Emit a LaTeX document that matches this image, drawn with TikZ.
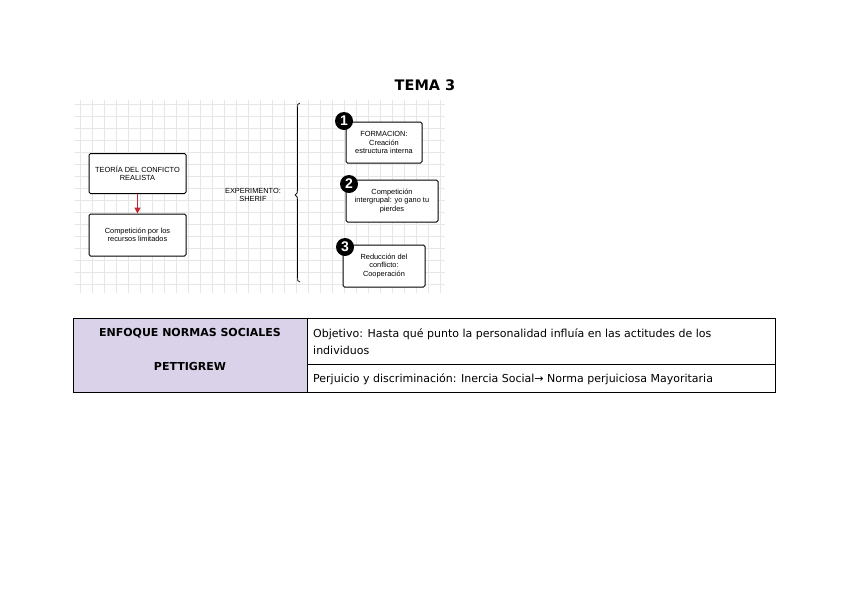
\documentclass[tikz,border=0pt]{standalone}
\usepackage{fontspec}
\setmainfont{DejaVu Sans}
\newfontfamily\diagf{Liberation Sans}
\newfontfamily\tabf{DejaVu Sans}
\usetikzlibrary{arrows.meta}
\definecolor{gridc}{RGB}{230,230,230}
\definecolor{lav}{RGB}{217,210,233}
\definecolor{arrred}{RGB}{190,40,50}
\tikzset{
  dbox/.style={draw=black, line width=1pt, rounded corners=1.5pt, fill=white, align=center,
    font=\diagf\fontsize{7.4}{8.6}\selectfont, inner sep=1pt},
  numc/.style={circle, fill=black, text=white, inner sep=0pt, minimum size=18pt,
    font=\diagf\bfseries\fontsize{14}{14}\selectfont},
  cell/.style={draw=black, line width=0.6pt},
  celltxt/.style={font=\tabf\fontsize{11}{12}\selectfont, anchor=west, inner sep=0pt},
  headtxt/.style={font=\tabf\bfseries\fontsize{11}{12}\selectfont, inner sep=0pt}
}
\begin{document}
\begin{tikzpicture}[x=1pt,y=-1pt]
\useasboundingbox[fill=white] (0,0) rectangle (848,600);
% title
\node[font=\bfseries\fontsize{14.5}{14.5}\selectfont] (title) at (425,85) {TEMA 3};
% grid background
\begin{scope}
\clip (75,100) rectangle (445,293);
\foreach \x in {80,92,...,444} \draw[gridc, line width=0.5pt] (\x,100) -- (\x,293);
\foreach \y in {104,116,...,292} \draw[gridc, line width=0.5pt] (75,\y) -- (445,\y);
\end{scope}
% left boxes
\node[dbox, minimum width=97pt, minimum height=40pt] (teoria) at (137.5,173.5) {TEORÍA DEL CONFICTO\\REALISTA};
\node[dbox, minimum width=97pt, minimum height=42pt] (comp) at (137.5,235) {Competición por los\\recursos limitados};
\draw[arrred, line width=1.4pt, -{Triangle[length=6pt,width=6pt]}] (teoria) -- (comp);
% experiment label
\node[font=\diagf\fontsize{7.4}{7.6}\selectfont, align=center] (exp) at (253,195) {EXPERIMENTO:\\SHERIF};
% brace
\coordinate (btop) at (300,103);
\coordinate (bbot) at (300,282);
\draw[line width=0.7pt] (btop) .. controls (297.5,103) and (297.5,105) .. (297.5,108) -- (297.5,190)
  .. controls (297.5,193) .. (295,195) .. controls (297.5,197) .. (297.5,200) -- (297.5,277)
  .. controls (297.5,280) and (297.5,282) .. (bbot);
% right boxes
\node[dbox, minimum width=76pt, minimum height=41pt] (f1) at (384,142.5) {FORMACION:\\Creación\\estructura interna};
\node[numc] (n1) at (344,121) {1};
\node[dbox, minimum width=92pt, minimum height=42pt] (f2) at (392,201) {Competición\\intergrupal: yo gano tu\\pierdes};
\node[numc] (n2) at (349,184) {2};
\node[dbox, minimum width=82pt, minimum height=42pt] (f3) at (384,266) {Reducción del\\conflicto:\\Cooperación};
\node[numc] (n3) at (345,247) {3};
% table
\fill[lav] (73,318) rectangle (307,392);
\draw[cell] (73,318) rectangle (775,392);
\draw[cell] (307,318) -- (307,392);
\draw[cell] (307,364) -- (775,364);
\node[headtxt] (h1) at (190,333) {ENFOQUE NORMAS SOCIALES};
\node[headtxt] (h2) at (190,366) {PETTIGREW};
\node[celltxt] (t1) at (313,334) {Objetivo: Hasta qué punto la personalidad influía en las actitudes de los};
\node[celltxt] (t2) at (313,350) {individuos};
\node[celltxt] (t3) at (313,379) {Perjuicio y discriminación: Inercia Social→ Norma perjuiciosa Mayoritaria};
\end{tikzpicture}
\end{document}
